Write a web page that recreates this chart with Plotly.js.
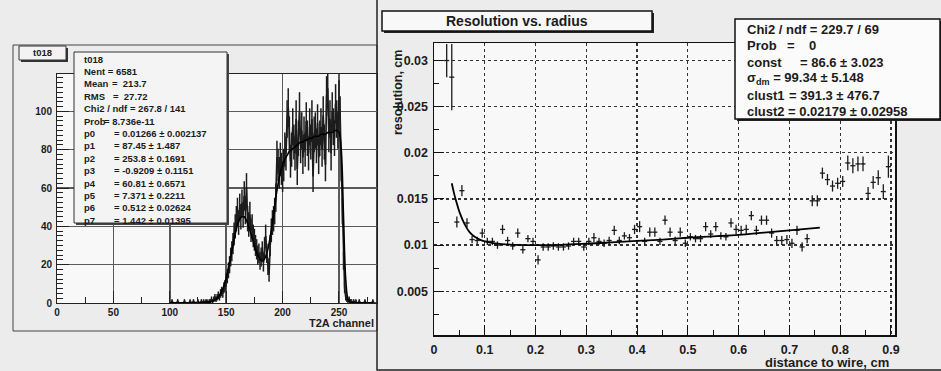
<!DOCTYPE html>
<html><head><meta charset="utf-8">
<script src="https://cdn.plot.ly/plotly-3.0.1.min.js"></script>
<style>html,body{margin:0;padding:0;background:#ececec;}#c{width:941px;height:371px;}</style>
</head><body><div id="c"></div>
<script>
// ---------- Left panel: histogram t018 (channel bins of 1, starting at channel 100) ----------
const histStart = 100;
const histCounts = [
 0,0,1,0,0,0,0,1,0,0, 0,0,0,1,0,0,0,0,1,0, 0,1,0,0,0,1,0,0,1,0, 1,0,1,1,0,1,
 1,2,1,2,3,2,3,4,3,5,
 6,5,8,9,12,14,17,20,24,27,
 31,36,40,44,48,42,50,45,52,46,
 56,48,60,44,41,46,38,40,35,33,
 30,28,25,26,22,24,27,21,29,35,
 26,19,15,30,38,42,44,48,55,76,
 72,68,75,70,66,72,80,78,96,102,
 88,74,80,92,84,78,96,70,86,100,
 82,90,76,88,80,95,86,78,92,84,
 96,66,88,90,82,94,76,86,92,80,
 98,84,72,108,112,88,96,78,100,92,
 86,104,96,90,106,98,72,48,22,8,
 3,2,1,2,1,1,0,1,0,1,
 0,0,1,0,0,0,0,1,0,0, 0,0,0,0,1,0,0,0,0,0
];
const histFitX = [100,110,120,130,136,140,142,144,146,148,150,152,154,156,158,160,162,164,166,168,170,172,174,176,178,180,182,184,186,188,190,192,194,196,198,200,202,204,206,208,210,212,214,216,218,220,222,224,226,228,230,232,234,236,238,240,242,244,246,248,250,252,254,256,258,260,262,270,280];
const histFitY = [0.1,0.1,0.2,0.3,0.6,1.5,2.5,4,6,9,13,18,24,30,36,41,44,45,45,43,40,36,32,28,25,23,22,23,26,31,38,46,55,62,68,72,75,77,79,80,81,82,83,84,84,85,85,86,86,87,87,87,88,88,88,89,89,89,90,90,89,80,45,12,2,0.4,0.2,0.1,0.1];
const leftStats = [
 ['t018','',0],['Nent = 6581','',0],['Mean','=  213.7',110],['RMS','=  27.72',111],
 ['Chi2 / ndf = 267.8 / 141','',0],['Prob','= 8.736e-11',102],
 ['p0','= 0.01266 ± 0.002137',112],['p1','= 87.45 ± 1.487',112],['p2','= 253.8 ± 0.1691',112],
 ['p3','= -0.9209 ± 0.1151',112],['p4','= 60.81 ± 0.6571',112],['p5','= 7.371 ± 0.2211',112],
 ['p6','= 0.512 ± 0.02624',112],['p7','= 1.442 ± 0.01395',112]
];

// ---------- Right panel: Resolution vs. radius ----------
const resX = [0.025,0.035,0.045,0.055,0.065,0.075,0.085,0.095,0.105,0.115,0.125,0.135,0.145,0.155,0.165,0.175,0.185,0.195,0.205,0.215,0.225,0.235,0.245,0.255,0.265,0.275,0.285,0.295,0.305,0.315,0.325,0.335,0.345,0.355,0.365,0.375,0.385,0.395,0.405,0.415,0.425,0.435,0.445,0.455,0.465,0.475,0.485,0.495,0.505,0.515,0.525,0.535,0.545,0.555,0.565,0.575,0.585,0.595,0.605,0.615,0.625,0.635,0.645,0.655,0.665,0.675,0.685,0.695,0.705,0.715,0.725,0.735,0.745,0.755,0.765,0.775,0.785,0.795,0.805,0.815,0.825,0.835,0.845,0.855,0.865,0.875,0.885,0.895];
const resY = [0.0300,0.0282,0.0125,0.0159,0.0124,0.0106,0.0105,0.0113,0.0104,0.0104,0.0100,0.0117,0.0105,0.0099,0.0113,0.0095,0.0107,0.0104,0.0084,0.0098,0.0098,0.0099,0.0098,0.0098,0.0099,0.0104,0.0104,0.0098,0.0104,0.0108,0.0104,0.0102,0.0105,0.0116,0.0105,0.0110,0.0108,0.0117,0.0120,0.0104,0.0114,0.0114,0.0104,0.0127,0.0114,0.0105,0.0114,0.0102,0.0109,0.0107,0.0107,0.0120,0.0112,0.0120,0.0110,0.0109,0.0124,0.0117,0.0116,0.0117,0.0132,0.0116,0.0127,0.0127,0.0113,0.0105,0.0105,0.0106,0.0102,0.0116,0.0098,0.0107,0.0148,0.0148,0.0178,0.0171,0.0164,0.0167,0.0169,0.0189,0.0186,0.0188,0.0188,0.0156,0.0168,0.0173,0.0158,0.0185];
const resYErr = [0.0018,0.0036,0.0006,0.0006,0.0005,0.0004,0.0004,0.0005,0.0004,0.0004, 0.0004,0.0005,0.0004,0.0004,0.0005,0.0004,0.0004,0.0004,0.0005,0.0004, 0.0004,0.0004,0.0004,0.0004,0.0004,0.0004,0.0004,0.0004,0.0004,0.0005, 0.0004,0.0004,0.0004,0.0005,0.0004,0.0004,0.0004,0.0005,0.0006,0.0004, 0.0005,0.0005,0.0004,0.0005,0.0005,0.0004,0.0005,0.0004,0.0004,0.0004, 0.0004,0.0005,0.0004,0.0005,0.0004,0.0004,0.0005,0.0005,0.0005,0.0005, 0.0005,0.0005,0.0005,0.0005,0.0005,0.0005,0.0005,0.0005,0.0005,0.0005, 0.0005,0.0005,0.0006,0.0006,0.0006,0.0006,0.0006,0.0006,0.0006,0.0008, 0.0008,0.0008,0.0008,0.0007,0.0007,0.0008,0.0008,0.0012];
const resXHalfBin = 0.005;
const resFitX = [0.035,0.04,0.045,0.05,0.06,0.07,0.08,0.09,0.10,0.12,0.15,0.20,0.25,0.30,0.35,0.40,0.45,0.50,0.55,0.60,0.65,0.70,0.76];
const resFitY = [0.0167,0.0155,0.0145,0.0136,0.0123,0.0114,0.0109,0.0106,0.0104,0.0102,0.01005,0.0100,0.01003,0.01015,0.0103,0.01045,0.0106,0.0108,0.01095,0.0111,0.01135,0.0116,0.0119];
const rightStats = [
 ['Chi2 / ndf = 229.7 / 69','',0],['Prob','=',785],['','0',807],
 ['const','= 86.6 ± 3.023',798],['σ<sub>dm</sub> = 99.34 ± 5.148','',0],
 ['clust1','= 391.3 ± 476.7',787],['clust2','= 0.02179 ± 0.02958',786]
];
const rightStatsRow = [0,1,1,2,3,4,5];

// ---------- helpers ----------
const W = 941, H = 371;
const PX = v => v / W, PY = v => 1 - v / H;
const FONT = 'Liberation Sans, Arial, sans-serif';
const INK = '#1c1c1c';
const NONE = 'rgba(0,0,0,0)';
function rect(x0, y0, x1, y1, fill, lc, lw, layer) {
  return {type:'rect', xref:'paper', yref:'paper', x0:PX(x0), x1:PX(x1), y0:PY(y1), y1:PY(y0),
          fillcolor:fill, line:{color:lc, width:lw}, layer:layer};
}
function txt(x, y, s, size, xa, extra) {
  return Object.assign({xref:'paper', yref:'paper', x:PX(x), y:PY(y), text:s, showarrow:false,
    xanchor:xa || 'left', yanchor:'middle', font:{family:FONT, size:size, color:INK, weight:'bold'}}, extra || {});
}

const histX = histCounts.map((_, i) => histStart + i);
const histErr = histCounts.map(v => Math.sqrt(v));

const traces = [
  {x:histX, y:histCounts, type:'scatter', mode:'lines', xaxis:'x', yaxis:'y',
   line:{color:INK, width:1.7},
   error_y:{type:'data', array:histErr, visible:true, width:0, thickness:1.5, color:INK}},
  {x:histFitX, y:histFitY, type:'scatter', mode:'lines', xaxis:'x', yaxis:'y',
   line:{color:'#000', width:1.6, shape:'spline'}},
  {x:resX, y:resY, type:'scatter', mode:'markers', xaxis:'x2', yaxis:'y2',
   marker:{size:1, color:INK},
   error_x:{type:'constant', value:resXHalfBin, visible:true, width:0, thickness:1.3, color:INK},
   error_y:{type:'data', array:resYErr, visible:true, width:0, thickness:1.3, color:INK}},
  {x:resFitX, y:resFitY, type:'scatter', mode:'lines', xaxis:'x2', yaxis:'y2',
   line:{color:'#000', width:1.8, shape:'spline'}}
];

const shapes = [
  rect(13,45,377,331,NONE,'#444',1,'below'),
  rect(21,48,68,62,'#333','#333',0,'below'),
  rect(19,46,66,60,'#f3f3f3','#333',1,'below'),
  rect(377,-3,944,370,NONE,'#222',1.5,'below'),
  rect(384,13,654,33,'#222','#222',0,'below'),
  rect(382,11,652,31,'#f8f8f8','#111',1.5,'below'),
  rect(76,54,229,225,'#444','#444',0,'above'),
  rect(74,52,227,223,'#f4f4f4','#333',1,'above'),
  rect(737,21,942,121,'#222','#222',0,'above'),
  rect(735,19,940,119,'#fbfbfb','#111',1.5,'above')
];

const ann = [];
ann.push(txt(42.5, 53, 't018', 9.5, 'center'));
leftStats.forEach((r, i) => {
  const y = 59 + 12.4 * i;
  ann.push(txt(82, y, r[0], 9.5));
  if (r[1]) ann.push(txt(r[2], y, r[1], 9.5));
});
ann.push(txt(376, 323, 'T2A channel', 11, 'right'));
ann.push(txt(517, 21, 'Resolution vs. radius', 14, 'center'));
const rowY = [29, 45.5, 62, 78.5, 95, 111.5];
rightStats.forEach((r, i) => {
  const y = rowY[rightStatsRow[i]];
  if (r[0]) ann.push(txt(745, y, r[0], 13));
  if (r[1]) ann.push(txt(r[2], y, r[1], 13));
});
ann.push(txt(398, 93, 'resolution, cm', 12.5, 'center', {textangle:-90}));
ann.push(txt(891, 362, 'distance to wire, cm', 13, 'right'));

const tickFontL = {family:FONT, size:10, color:INK, weight:'bold'};
const tickFontR = {family:FONT, size:12.5, color:INK, weight:'bold'};

const layout = {
  width:W, height:H, margin:{l:0, r:0, t:0, b:0},
  paper_bgcolor:'#ececec', plot_bgcolor:'#f8f8f8',
  showlegend:false, hovermode:false,
  xaxis:{domain:[PX(57), PX(377)], range:[0, 283.7], anchor:'y', tick0:0, dtick:50,
    showgrid:true, gridcolor:'#5a5a5a', gridwidth:1.5, zeroline:false,
    showline:true, linecolor:'#222', linewidth:1, mirror:true,
    ticks:'inside', ticklen:12, tickcolor:'#222', tickfont:tickFontL, ticklabelstandoff:0,
    minor:{dtick:25, ticks:'inside', ticklen:6, tickcolor:'#222', showgrid:false}},
  yaxis:{domain:[PY(303), PY(74)], range:[0, 119.5], anchor:'x', tick0:0, dtick:20,
    showgrid:true, gridcolor:'#5a5a5a', gridwidth:1.5, zeroline:false,
    showline:true, linecolor:'#222', linewidth:1, mirror:true,
    ticks:'inside', ticklen:12, tickcolor:'#222', tickfont:tickFontL, ticklabelstandoff:2,
    minor:{dtick:2.5, ticks:'inside', ticklen:6, tickcolor:'#222', showgrid:false}},
  xaxis2:{domain:[PX(434), PX(895)], range:[0, 0.908], anchor:'y2', tick0:0, dtick:0.1,
    showgrid:true, gridcolor:'#333', gridwidth:1.3, griddash:'dot', zeroline:false,
    showline:true, linecolor:'#111', linewidth:1.5, mirror:true,
    ticks:'inside', ticklen:10, tickcolor:'#111', tickfont:tickFontR, ticklabelstandoff:2,
    minor:{dtick:0.05, ticks:'inside', ticklen:5, tickcolor:'#111', showgrid:false}},
  yaxis2:{domain:[PY(335), PY(43)], range:[0.00026, 0.0319], anchor:'x2', tick0:0, dtick:0.005,
    showgrid:true, gridcolor:'#333', gridwidth:1.3, griddash:'dot', zeroline:false,
    showline:true, linecolor:'#111', linewidth:1.5, mirror:true,
    ticks:'inside', ticklen:10, tickcolor:'#111', tickfont:tickFontR, ticklabelstandoff:2,
    minor:{dtick:0.0025, ticks:'inside', ticklen:5, tickcolor:'#111', showgrid:false}},
  shapes:shapes, annotations:ann
};

Plotly.newPlot('c', traces, layout, {displayModeBar:false, staticPlot:true});
</script></body></html>
